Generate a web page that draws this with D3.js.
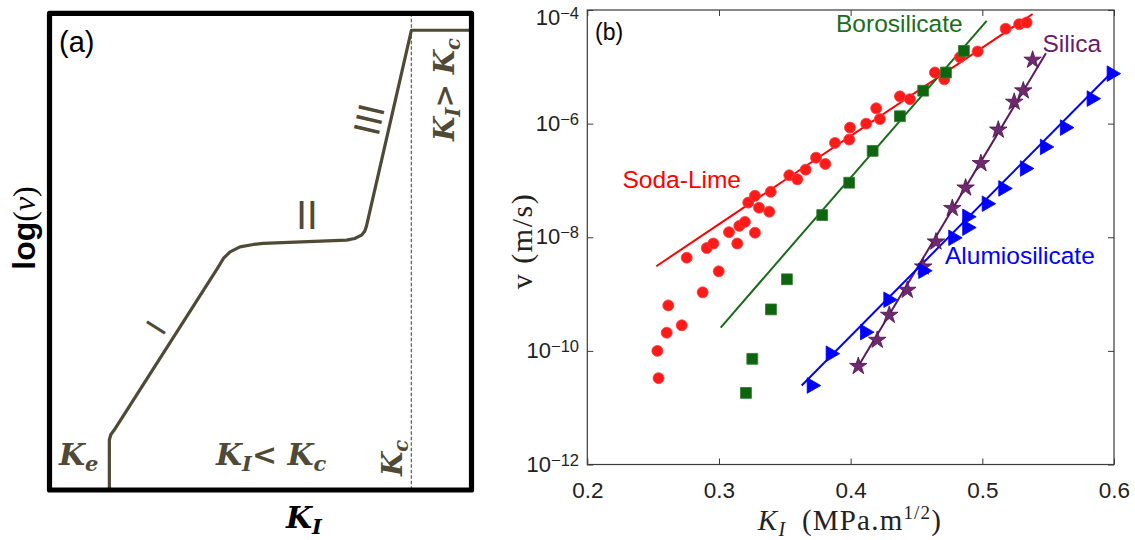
<!DOCTYPE html>
<html>
<head>
<meta charset="utf-8">
<script src="https://cdn.jsdelivr.net/npm/d3@7"></script>
<style>
  body { margin: 0; background: #fff; }
  svg { display: block; }
</style>
</head>
<body>
<svg id="fig" width="1135" height="540"></svg>
<script>
// ---------- Panel (a): schematic v-K curve, normalised units (0..1) ----------
const stageK    = [0.1418, 0.1418, 0.1454, 0.1525, 0.4002, 0.4121, 0.4279, 0.4515, 0.4830, 0.5066,
                   0.7038, 0.7234, 0.7392, 0.7470, 0.7511, 0.8575, 0.9941];
const stageLogV = [0.0000, 0.1048, 0.1164, 0.1247, 0.4681, 0.4857, 0.4996, 0.5101, 0.5151, 0.5172,
                   0.5241, 0.5277, 0.5346, 0.5430, 0.5535, 0.9644, 0.9644];
const criticalK = 0.8575;

// ---------- Panel (b): crack velocity vs stress intensity ----------
const xTicks = [0.2, 0.3, 0.4, 0.5, 0.6];
const yTickExps = [-12, -10, -8, -6, -4];

// Soda-lime glass (K in MPa.m^1/2, log10 of v in m/s)
const sodaK    = [0.2541, 0.2532, 0.2603, 0.2615, 0.2717, 0.2876, 0.2998, 0.2755, 0.2907, 0.2957,
                  0.3139, 0.3076, 0.3154, 0.3197, 0.3273, 0.3222, 0.3273, 0.3304, 0.3382, 0.3393,
                  0.3534, 0.3595, 0.3658, 0.3737, 0.3807, 0.3881, 0.3989, 0.3995, 0.4118, 0.4194,
                  0.4222, 0.4374, 0.4450, 0.4640, 0.4711, 0.4830, 0.4964, 0.5177, 0.5280, 0.5336];
const sodaLogV = [-10.48, -10.00, -9.68, -9.20, -9.55, -8.97, -8.60, -8.36, -8.19, -8.11,
                  -8.11, -7.91, -7.80, -7.73, -7.92, -7.39, -7.27, -7.48, -7.55, -7.20,
                  -6.91, -6.98, -6.81, -6.60, -6.71, -6.34, -6.28, -6.07, -6.00, -5.73,
                  -5.92, -5.52, -5.57, -5.10, -5.22, -4.83, -4.73, -4.33, -4.25, -4.22];
const sodaFitK = [0.2524, 0.5382];
const sodaFitLogV = [-8.51, -4.07];

// Borosilicate glass
const boroK    = [0.3205, 0.3253, 0.3395, 0.3516, 0.3784, 0.3989, 0.4167, 0.4374, 0.4551, 0.4724, 0.4860];
const boroLogV = [-10.74, -10.14, -9.27, -8.74, -7.61, -7.04, -6.48, -5.87, -5.42, -5.10, -4.72];
const boroFitK = [0.3013, 0.5033];
const boroFitLogV = [-9.59, -4.19];

// Silica glass
const silicaK    = [0.4058, 0.4202, 0.4293, 0.4430, 0.4551, 0.4648, 0.4772, 0.4873, 0.4989, 0.5121, 0.5242, 0.5311, 0.5382];
const silicaLogV = [-10.27, -9.81, -9.37, -8.93, -8.52, -8.08, -7.49, -7.13, -6.70, -6.11, -5.62, -5.42, -4.88];
const silicaFitK = [0.4058, 0.5483];
const silicaFitLogV = [-10.27, -4.76];

// Aluminosilicate glass
const aluK    = [0.3704, 0.3848, 0.4109, 0.4286, 0.4551, 0.4779, 0.4885, 0.4885, 0.5033, 0.5159, 0.5323, 0.5475, 0.5627, 0.5830, 0.5982];
const aluLogV = [-10.61, -10.05, -9.67, -9.10, -8.59, -8.01, -7.83, -7.64, -7.41, -7.14, -6.79, -6.41, -6.07, -5.56, -5.12];
const aluFitK = [0.3628, 0.5982];
const aluFitLogV = [-10.61, -5.10];

const svg = d3.select('#fig');
const zip = (a, b) => a.map((d, i) => [d, b[i]]);

// ===================== Panel (a) =====================
const ink = '#4f4a36';
const ax = d3.scaleLinear([0, 1], [49.5, 471.5]);
const ay = d3.scaleLinear([0, 1], [490, 13.3]);
const gA = svg.append('g');

// critical K dashed line
gA.append('line')
  .attr('x1', ax(criticalK)).attr('x2', ax(criticalK))
  .attr('y1', ay(1)).attr('y2', ay(0))
  .attr('stroke', '#6a6756').attr('stroke-width', 1.3).attr('stroke-dasharray', '3.5,2');

// regime curve
gA.append('path')
  .attr('d', d3.line().x(d => ax(d[0])).y(d => ay(d[1]))(zip(stageK, stageLogV)))
  .attr('fill', 'none').attr('stroke', ink).attr('stroke-width', 3.2)
  .attr('stroke-linejoin', 'round');

// frame
gA.append('rect')
  .attr('x', ax(0)).attr('y', ay(1))
  .attr('width', ax(1) - ax(0)).attr('height', ay(0) - ay(1))
  .attr('fill', 'none').attr('stroke', '#000').attr('stroke-width', 5.2)
  .attr('stroke-linejoin', 'round');

gA.append('text').attr('x', 59).attr('y', 52)
  .attr('font-family', 'Liberation Sans, Arial, sans-serif').attr('font-size', 29)
  .text('(a)');

// roman-numeral regime labels, aligned with the curve
const romanFont = 'Lato, "Open Sans", sans-serif';
function roman(txt, cx, cy, angle, size) {
  gA.append('text')
    .attr('transform', `translate(${cx},${cy}) rotate(${angle})`)
    .attr('text-anchor', 'middle').attr('dy', '0.36em')
    .attr('font-family', romanFont).attr('font-size', size).attr('fill', ink)
    .text(txt);
}
roman('I', 156, 327.5, -57.5, 30);
roman('II', 307, 215, 0, 38);
roman('III', 369, 119.5, -77, 36);

// K labels (bold italic serif)
const kFont = '"DejaVu Serif", serif';
function kLabel(parts, x, y, angle, size, fill) {
  const t = gA.append('text')
    .attr('transform', `translate(${x},${y}) rotate(${angle})`)
    .attr('font-family', kFont).attr('font-weight', 'bold').attr('font-style', 'italic')
    .attr('font-size', size).attr('fill', fill);
  let shift = 0;
  parts.forEach(p => {
    const s = t.append('tspan').text(p[0]);
    if (p[1] === 'sub') {
      s.attr('font-size', size * 0.7).attr('dy', size * 0.2 - shift);
      shift = size * 0.2;
    } else {
      s.attr('dy', -shift);
      shift = 0;
    }
  });
  return t;
}
kLabel([['K'], ['e', 'sub']], 59, 465, 0, 30, ink);
kLabel([['K'], ['I', 'sub'], ['< K'], ['c', 'sub']], 216, 465, 0, 30, ink);
kLabel([['K'], ['c', 'sub']], 402, 476, -90, 28, ink);
kLabel([['K'], ['I', 'sub'], ['> K'], ['c', 'sub']], 454, 141, -90, 28, ink);
kLabel([['K'], ['I', 'sub']], 286, 528, 0, 30, '#000');

// y-axis label of panel (a)
const logT = gA.append('text')
  .attr('transform', 'translate(35,228) rotate(-90)')
  .attr('text-anchor', 'middle').attr('font-size', 32);
logT.append('tspan').attr('font-family', 'Liberation Sans, Arial, sans-serif').attr('font-weight', 'bold').text('log');
logT.append('tspan').attr('font-family', 'Liberation Serif, serif').text('(');
logT.append('tspan').attr('font-family', 'Liberation Serif, serif').attr('font-style', 'italic').text('v');
logT.append('tspan').attr('font-family', 'Liberation Serif, serif').text(')');

// ===================== Panel (b) =====================
const x = d3.scaleLinear([0.2, 0.6], [587.3, 1114]);
const y = d3.scaleLog([1e-12, 1e-4], [464.5, 10]);
const gB = svg.append('g');
const sans = 'Liberation Sans, Arial, sans-serif';
const axisColor = '#3a3a3a';

function styleAxis(g) {
  g.select('.domain').remove();
  g.selectAll('.tick line').attr('stroke', axisColor).attr('stroke-width', 1);
  g.attr('font-family', sans).attr('font-size', 22.5);
  g.selectAll('.tick text').attr('fill', '#222');
}

gB.append('g').attr('transform', `translate(0,${y.range()[0]})`)
  .call(d3.axisBottom(x).tickValues(xTicks).tickSizeInner(-6).tickSizeOuter(0)
        .tickPadding(18).tickFormat(d3.format('.1f')))
  .call(styleAxis);
gB.append('g').attr('transform', `translate(0,${y.range()[1]})`)
  .call(d3.axisTop(x).tickValues(xTicks).tickSizeInner(-6).tickSizeOuter(0).tickFormat(() => ''))
  .call(styleAxis);
const yTickVals = yTickExps.map(e => Math.pow(10, e));
gB.append('g').attr('transform', `translate(${x.range()[0]},0)`)
  .call(d3.axisLeft(y).tickValues(yTickVals).tickSizeInner(-6).tickSizeOuter(0).tickFormat(() => ''))
  .call(styleAxis);
gB.append('g').attr('transform', `translate(${x.range()[1]},0)`)
  .call(d3.axisRight(y).tickValues(yTickVals).tickSizeInner(-6).tickSizeOuter(0).tickFormat(() => ''))
  .call(styleAxis);

// power-of-ten tick labels
yTickExps.forEach(e => {
  const base = Math.max(y(Math.pow(10, e)) + 7, 25);
  const t = gB.append('text')
    .attr('x', 579).attr('y', base)
    .attr('text-anchor', 'end').attr('font-family', sans).attr('fill', '#222');
  t.append('tspan').attr('font-size', 22).text('10');
  t.append('tspan').attr('font-size', 16.5).attr('dy', -6).text('\u2212' + Math.abs(e));
});

// plot frame
gB.append('rect')
  .attr('x', x.range()[0]).attr('y', y.range()[1])
  .attr('width', x.range()[1] - x.range()[0]).attr('height', y.range()[0] - y.range()[1])
  .attr('fill', 'none').attr('stroke', axisColor).attr('stroke-width', 1.2);

// axis titles
const serif = 'Liberation Serif, "Times New Roman", serif';
const xl = gB.append('text').attr('x', 850).attr('y', 530).attr('text-anchor', 'middle')
  .attr('font-family', serif).attr('font-size', 29).attr('fill', '#222')
  .attr('letter-spacing', 1.2);
xl.append('tspan').attr('font-style', 'italic').text('K');
xl.append('tspan').attr('font-style', 'italic').attr('font-size', 20).attr('dy', 6).text('I');
xl.append('tspan').attr('dy', -6).text('\u2002(MPa.m');
xl.append('tspan').attr('font-size', 19).attr('dy', -11).text('1/2');
xl.append('tspan').attr('dy', 11).text(')');

gB.append('text')
  .attr('transform', 'translate(532,241) rotate(-90)').attr('text-anchor', 'middle')
  .attr('font-family', serif).attr('font-size', 30).attr('fill', '#222')
  .attr('letter-spacing', 1.5)
  .text('v (m/s)');

// fit lines
const lineGen = d3.line().x(d => x(d[0])).y(d => y(Math.pow(10, d[1])));
function fit(kArr, lvArr, color) {
  gB.append('path').attr('d', lineGen(zip(kArr, lvArr)))
    .attr('fill', 'none').attr('stroke', color).attr('stroke-width', 2);
}
const red = '#ff0000', green = '#0f640f', blue = '#0000ff';
fit(sodaFitK, sodaFitLogV, red);
fit(boroFitK, boroFitLogV, '#1a6a1a');
fit(silicaFitK, silicaFitLogV, '#5c1a5c');
fit(aluFitK, aluFitLogV, blue);

// markers
function markers(kArr, lvArr, type, size, fill, stroke, rot) {
  gB.append('g').selectAll('path').data(zip(kArr, lvArr)).join('path')
    .attr('transform', d => `translate(${x(d[0])},${y(Math.pow(10, d[1]))}) rotate(${rot || 0})`)
    .attr('d', d3.symbol().type(type).size(size))
    .attr('fill', fill).attr('stroke', stroke).attr('stroke-width', 0.8);
}
markers(sodaK, sodaLogV, d3.symbolCircle, 95, '#ff1a1a', '#ff3c3c');
markers(boroK, boroLogV, d3.symbolSquare, 118, green, '#2d7a2d');
markers(silicaK, silicaLogV, d3.symbolStar, 95, '#6e2a6e', '#4d104d');
markers(aluK, aluLogV, d3.symbolTriangle, 105, blue, blue, 90);

// series labels
function seriesLabel(txt, lx, ly, color) {
  gB.append('text').attr('x', lx).attr('y', ly)
    .attr('font-family', sans).attr('font-size', 24.5).attr('fill', color).text(txt);
}
gB.append('text').attr('x', 595).attr('y', 40)
  .attr('font-family', sans).attr('font-size', 23).attr('fill', '#000').text('(b)');
seriesLabel('Soda-Lime', 622.5, 188, red);
seriesLabel('Borosilicate', 836, 31.5, '#1a6e1a');
seriesLabel('Silica', 1042.5, 51.5, '#6a1b6a');
seriesLabel('Alumiosilicate', 945, 264, blue);
</script>
</body>
</html>
